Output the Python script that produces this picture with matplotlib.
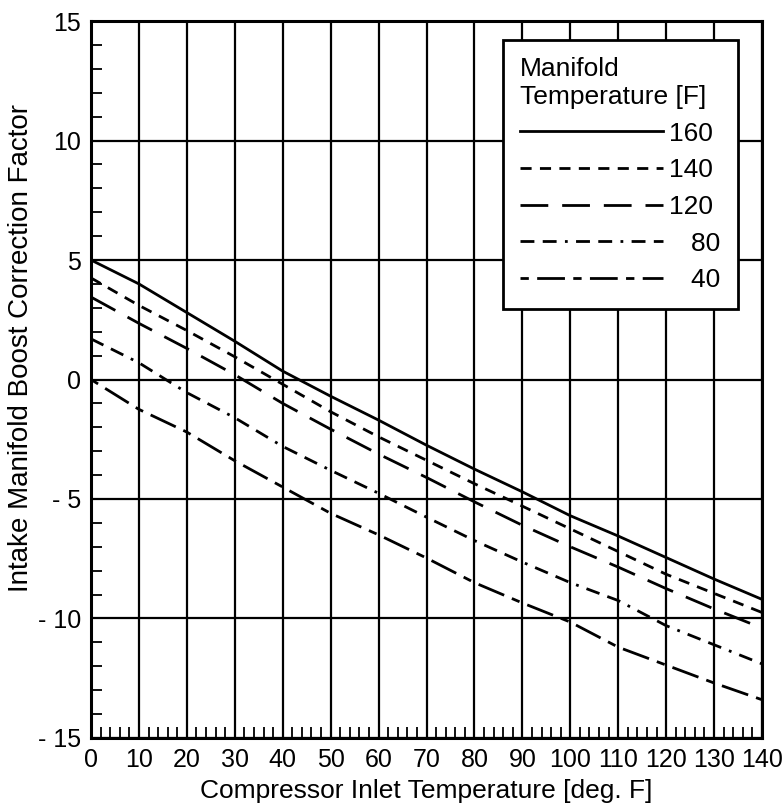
import numpy as np
import matplotlib
matplotlib.use('Agg')
from matplotlib import pyplot as plt
from matplotlib.ticker import MultipleLocator, FixedLocator

plt.rcParams['font.family'] = ['Liberation Sans', 'DejaVu Sans']

# compressor inlet temperature [deg F]
x = [0, 10, 20, 30, 40, 50, 60, 70, 80, 90, 100, 110, 120, 130, 140]

# boost correction factor for each manifold temperature
t160 = [5.0, 4.0, 2.8, 1.6, 0.35, -0.7, -1.7, -2.75, -3.75, -4.7, -5.7, -6.55, -7.45, -8.35, -9.2]
t140 = [4.25, 3.1, 2.05, 0.95, -0.2, -1.35, -2.4, -3.38, -4.36, -5.3, -6.25, -7.2, -8.15, -8.95, -9.75]
t120 = [3.45, 2.35, 1.3, 0.2, -1.0, -2.08, -3.12, -4.1, -5.12, -6.1, -7.0, -7.85, -8.75, -9.6, -10.4]
t80 = [1.7, 0.7, -0.55, -1.6, -2.8, -3.8, -4.76, -5.76, -6.74, -7.64, -8.5, -9.25, -10.3, -11.1, -11.9]
t40 = [0.0, -1.25, -2.2, -3.4, -4.5, -5.6, -6.5, -7.47, -8.5, -9.35, -10.15, -11.2, -11.95, -12.7, -13.4]

series = [t160, t140, t120, t80, t40]
labels = ['160', '140', '120', '\u2007 80', '\u2007 40']
styles = ['-', (0, (4, 3)), (0, (10, 5)), (0, (5, 3, 5, 3, 1, 3)), (0, (3, 3, 10, 3))]

yticks = [-15, -10, -5, 0, 5, 10, 15]
ytick_labels = ['- 15', '- 10', '- 5', '0', '5', '10', '15']

fig = plt.figure(figsize=(7.83, 8.09), dpi=100)
ax = fig.add_axes([0.1162, 0.0878, 0.857, 0.8862])

for ys, lab, ls in zip(series, labels, styles):
    ax.plot(x, ys, color='black', linestyle=ls, linewidth=2, label=lab)

ax.set_xlim(0, 140)
ax.set_ylim(-15, 15)
ax.xaxis.set_major_locator(MultipleLocator(10))
ax.xaxis.set_minor_locator(MultipleLocator(2))
ax.yaxis.set_major_locator(FixedLocator(yticks))
ax.set_yticklabels(ytick_labels)
ax.yaxis.set_minor_locator(MultipleLocator(1))

ax.grid(True, which='major', color='black', linewidth=1.6)
ax.tick_params(which='major', length=0, labelsize=18, pad=7)
ax.tick_params(which='minor', direction='in', length=8, width=1.3, color='black')
ax.tick_params(axis='x', which='minor', top=False)
ax.tick_params(axis='y', which='minor', right=False)
for sp in ax.spines.values():
    sp.set_linewidth(2.2)

ax.set_xlabel('Compressor Inlet Temperature [deg. F]', fontsize=19, labelpad=5)
ax.set_ylabel('Intake Manifold Boost Correction Factor', fontsize=20)
ax.yaxis.set_label_coords(-0.085, 0.544)

leg = ax.legend(title='Manifold\nTemperature [F]', loc='upper right',
                bbox_to_anchor=(0.964, 0.9735), borderaxespad=0,
                fontsize=19, title_fontsize=19, handlelength=5.4,
                handletextpad=0.25, labelspacing=0.48, fancybox=False,
                framealpha=1, edgecolor='black', borderpad=0.65)
leg._legend_box.align = 'left'
leg.get_frame().set_linewidth(2)

plt.savefig('out.png', dpi=100)
